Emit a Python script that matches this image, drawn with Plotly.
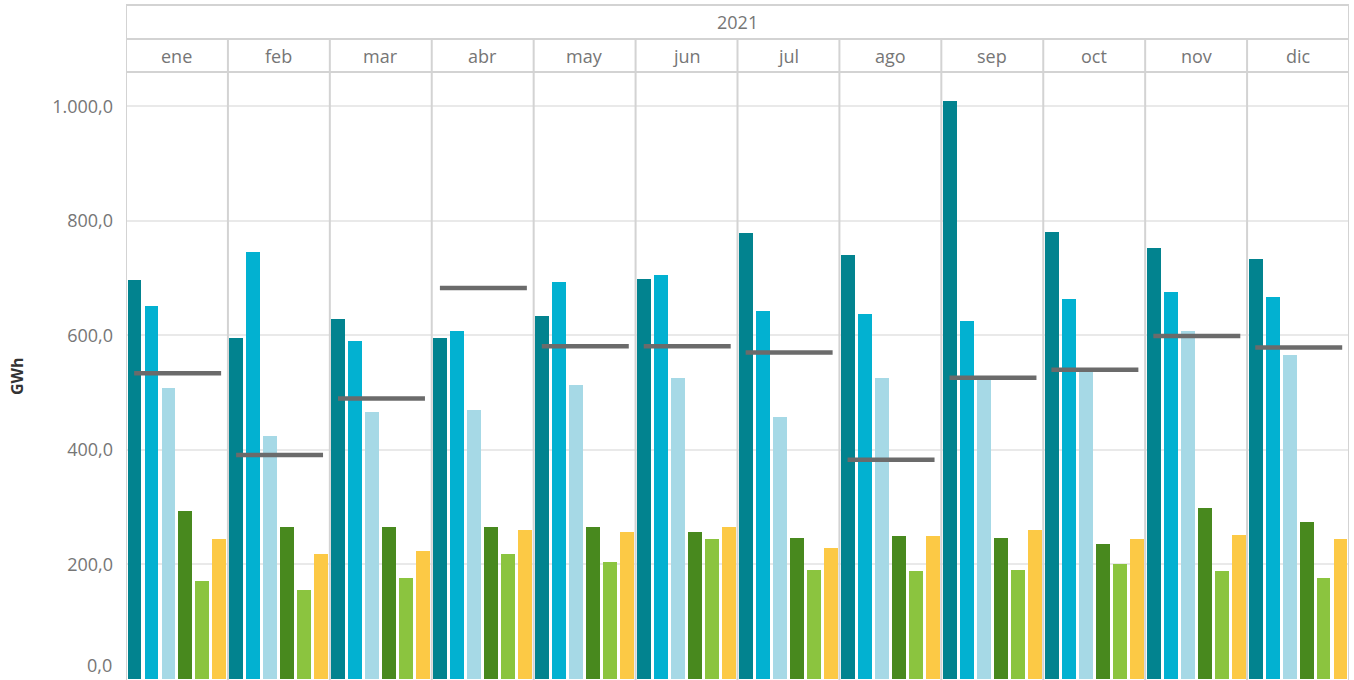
import plotly.graph_objects as go

# ---- data ----
year = "2021"
months = ["ene", "feb", "mar", "abr", "may", "jun", "jul", "ago", "sep", "oct", "nov", "dic"]
serie_1 = [696, 595, 628, 595, 634, 698, 778, 740, 1010, 780, 752, 733]
serie_2 = [651, 745, 590, 607, 693, 705, 642, 637, 625, 663, 675, 667]
serie_3 = [508, 425, 466, 470, 513, 526, 458, 526, 525, 536, 607, 566]
serie_4 = [294, 266, 266, 266, 266, 256, 247, 249, 247, 235, 299, 275]
serie_5 = [172, 155, 176, 219, 205, 244, 191, 188, 191, 200, 188, 176]
serie_6 = [244, 218, 223, 261, 257, 265, 228, 249, 261, 244, 252, 244]
referencia = [534, 391, 490, 683, 581, 581, 570, 383, 526, 540, 599, 579]
tick_vals = [0, 200, 400, 600, 800, 1000]
tick_labels = ["0,0", "200,0", "400,0", "600,0", "800,0", "1.000,0"]
y_title = "GWh"

series = [serie_1, serie_2, serie_3, serie_4, serie_5, serie_6]
colors = ["#02838F", "#02B1D1", "#A6D9E6", "#48891E", "#8BC43F", "#FCC945"]

W, H = 1354, 680
ML, MR, MT, MB = 126, 5, 72, 0
plot_h = H - MT - MB
FONT = "Open Sans"
TXT = "#767676"
LINE = "#d3d3d3"
FS = 18

n = len(months)
k = len(series)

fig = go.Figure()
for j, (vals, col) in enumerate(zip(series, colors)):
    fig.add_trace(go.Bar(
        x=[i * k + j for i in range(n)], y=vals, width=0.82,
        marker=dict(color=col, line=dict(width=0)),
        showlegend=False, hoverinfo="y"))

# reference line per month
for i, v in enumerate(referencia):
    fig.add_trace(go.Scatter(
        x=[i * k - 0.02, i * k + 5.1], y=[v, v], mode="lines",
        line=dict(color="#6b6b6b", width=4.5), showlegend=False, hoverinfo="y"))

def py(px):
    return (H - MB - px) / plot_h

shapes = []
y_top = py(5)
y_mid = py(39)
for yy in [y_top, y_mid, 1]:
    shapes.append(dict(type="line", xref="x", yref="paper", x0=-0.5, x1=n * k - 0.5, y0=yy, y1=yy,
                       line=dict(color=LINE, width=2)))
for xb in [-0.5, n * k - 0.5]:
    shapes.append(dict(type="line", xref="x", yref="paper", x0=xb, x1=xb, y0=0, y1=y_top,
                       line=dict(color=LINE, width=2)))
for i in range(1, n):
    xb = i * k - 0.5
    shapes.append(dict(type="line", xref="x", yref="paper", x0=xb, x1=xb, y0=0, y1=y_mid,
                       line=dict(color=LINE, width=2)))

annotations = []
for i, m in enumerate(months):
    annotations.append(dict(text=m, x=i * k + 2.5, xref="x", y=py(56), yref="paper",
                            showarrow=False, font=dict(family=FONT, size=FS, color=TXT),
                            xanchor="center", yanchor="middle"))
annotations.append(dict(text=year, x=(n * k - 1) / 2, xref="x", y=py(22), yref="paper",
                        showarrow=False, font=dict(family=FONT, size=FS, color=TXT),
                        xanchor="center", yanchor="middle"))
annotations.append(dict(text=tick_labels[0], x=0, xref="paper", xanchor="right", xshift=-12,
                        y=0, yref="paper", yanchor="bottom", yshift=1, showarrow=False,
                        font=dict(family=FONT, size=FS, color=TXT)))
annotations.append(dict(text=y_title, x=0, xref="paper", xshift=-(ML - 17), xanchor="center",
                        y=0.5, yref="paper", yanchor="middle", textangle=-90, showarrow=False,
                        font=dict(family=FONT, size=16, color="#333333", weight="bold")))

fig.update_layout(
    width=W, height=H,
    margin=dict(l=ML, r=MR, t=MT, b=MB),
    paper_bgcolor="white", plot_bgcolor="white",
    separators=",.",
    bargap=0, barmode="overlay",
    shapes=shapes, annotations=annotations,
    xaxis=dict(range=[-0.5, n * k - 0.5], showticklabels=False, showgrid=False,
               zeroline=False, showline=False, fixedrange=True),
    yaxis=dict(range=[-1.7, 1060], tickvals=tick_vals[1:], ticktext=tick_labels[1:],
               showgrid=True, gridcolor="#e9e9e9", gridwidth=2, zeroline=False,
               showline=False, ticks="", ticklabelstandoff=12,
               tickfont=dict(family=FONT, size=FS, color=TXT)),
)

fig.write_html("out.html", config={"displayModeBar": False},
               post_script="document.body.style.margin='0';document.body.style.overflow='hidden';")
